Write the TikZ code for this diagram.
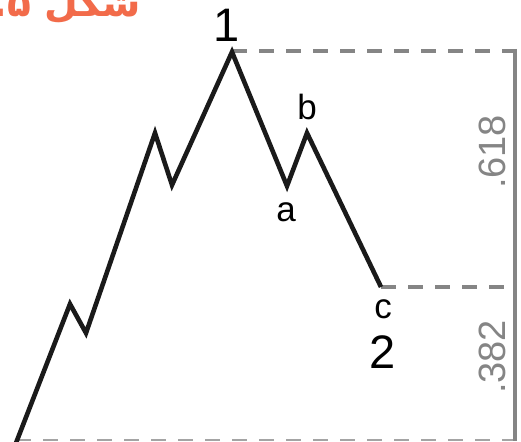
\documentclass[tikz,border=0pt]{standalone}
\usepackage{fontspec}
\setmainfont{Liberation Sans}
\newfontfamily\arabicfont[Script=Arabic]{DejaVu Sans}
\TeXXeTstate=1
\definecolor{wave}{HTML}{1A1A1A}
\definecolor{guide}{HTML}{858585}
\definecolor{ratio}{HTML}{858585}
\definecolor{titleor}{HTML}{F26B4A}
\tikzset{
  waveline/.style={draw=wave, line width=4.6pt, line join=miter},
  guideline/.style={draw=guide, line width=3.2pt, dash pattern=on 15pt off 12pt},
  lowguide/.style={draw=guide!75, line width=2.6pt, dash pattern=on 15pt off 12pt},
  axisline/.style={draw=guide, line width=3.2pt},
  biglabel/.style={font=\fontsize{47}{47}\selectfont, text=black, inner sep=0pt},
  smalllabel/.style={font=\fontsize{35}{35}\selectfont, text=black, inner sep=0pt},
  ratiolabel/.style={font=\fontsize{38}{38}\selectfont, text=ratio, inner sep=0pt, rotate=90},
}
\begin{document}
\begin{tikzpicture}[x=1pt,y=-1pt]
\useasboundingbox (0,0) rectangle (521,441);
\clip (0,0) rectangle (521,441);
\fill[white] (0,0) rectangle (521,441);
% title (cut at top, as in the reference)
\node[anchor=base east, text=titleor, inner sep=0pt, font=\fontsize{39}{39}\selectfont] (title) at (141,17) {\arabicfont\bfseries\beginR شکل ۵.\endR};
% wave points
\coordinate (s) at (16,443);
\coordinate (p1) at (70,304);
\coordinate (t1) at (86,333);
\coordinate (p2) at (155,133);
\coordinate (t2) at (172,185);
\coordinate (one) at (232,52);
\coordinate (a) at (287,186);
\coordinate (b) at (307,133);
\coordinate (c) at (381,287);
% guides
\coordinate (topR) at (515,51);
\coordinate (midR) at (515,287);
\coordinate (botL) at (16,440);
\coordinate (botR) at (515,440);
\draw[guideline] (one |- topR) -- (topR);
\draw[guideline] (c) -- (midR);
\draw[lowguide] (botL) -- (botR);
\draw[axisline] (515,49) -- (515,441);
% wave
\draw[waveline] (s) -- (p1) -- (t1) -- (p2) -- (t2) -- (one) -- (a) -- (b) -- (c);
% labels
\node[biglabel, anchor=base] (l1) at (227,42) {1};
\node[biglabel, anchor=base] (l2) at (383,368) {2};
\node[smalllabel, anchor=base] (la) at (286,221) {a};
\node[smalllabel, anchor=base] (lb) at (307,119) {b};
\node[smalllabel, anchor=base] (lc) at (383,318) {c};
\node[ratiolabel, anchor=base] (r618) at (505,152) {.618};
\node[ratiolabel, anchor=base] (r382) at (505,357) {.382};
\end{tikzpicture}
\end{document}
